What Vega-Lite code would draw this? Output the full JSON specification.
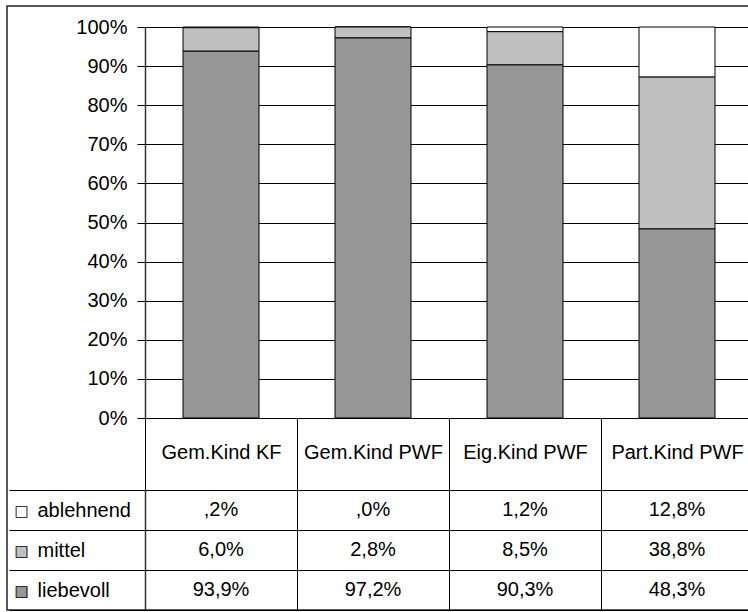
{
  "$schema": "https://vega.github.io/schema/vega-lite/v6.json",
  "autosize": {"type": "none"},
  "padding": {"left": 7, "top": 6, "right": -12, "bottom": 2},
  "width": 753,
  "height": 604,
  "background": "white",
  "config": {
    "font": "Liberation Sans",
    "view": {"stroke": "#222222", "strokeWidth": 1.5},
    "axis": {"labelFont": "Liberation Sans", "labelColor": "black", "title": null}
  },
  "data": {
    "values": [
      {"cat": "Gem.Kind KF", "series": "ablehnend", "value": 0.2, "label": ",2%"},
      {"cat": "Gem.Kind KF", "series": "mittel", "value": 6.0, "label": "6,0%"},
      {"cat": "Gem.Kind KF", "series": "liebevoll", "value": 93.9, "label": "93,9%"},
      {"cat": "Gem.Kind PWF", "series": "ablehnend", "value": 0.0, "label": ",0%"},
      {"cat": "Gem.Kind PWF", "series": "mittel", "value": 2.8, "label": "2,8%"},
      {"cat": "Gem.Kind PWF", "series": "liebevoll", "value": 97.2, "label": "97,2%"},
      {"cat": "Eig.Kind PWF", "series": "ablehnend", "value": 1.2, "label": "1,2%"},
      {"cat": "Eig.Kind PWF", "series": "mittel", "value": 8.5, "label": "8,5%"},
      {"cat": "Eig.Kind PWF", "series": "liebevoll", "value": 90.3, "label": "90,3%"},
      {"cat": "Part.Kind PWF", "series": "ablehnend", "value": 12.8, "label": "12,8%"},
      {"cat": "Part.Kind PWF", "series": "mittel", "value": 38.8, "label": "38,8%"},
      {"cat": "Part.Kind PWF", "series": "liebevoll", "value": 48.3, "label": "48,3%"}
    ]
  },
  "transform": [
    {"calculate": "indexof(['liebevoll','mittel','ablehnend'], datum.series)", "as": "ord"}
  ],
  "resolve": {"scale": {"y": "independent"}, "axis": {"y": "independent"}},
  "layer": [
    {
      "mark": {"type": "bar", "stroke": "black", "strokeWidth": 1, "width": {"band": 0.5}},
      "encoding": {
        "x": {
          "field": "cat", "type": "nominal", "sort": null,
          "scale": {"domain": ["Gem.Kind KF", "Gem.Kind PWF", "Eig.Kind PWF", "Part.Kind PWF"], "range": [138, 746], "paddingInner": 0, "paddingOuter": 0},
          "axis": {"orient": "bottom", "offset": -192, "tickBand": "extent", "tickSize": 192, "tickColor": "black", "tickWidth": 1, "domainColor": "black", "domainWidth": 1, "labelFontSize": 20, "labelPadding": -158, "labelBaseline": "middle", "labelAngle": 0, "labelFlush": false, "labelOverlap": false, "grid": false, "title": null}
        },
        "y": {
          "field": "value", "type": "quantitative", "stack": "normalize",
          "scale": {"domain": [0, 1], "range": [412, 21], "nice": false, "zero": false},
          "axis": {"orient": "left", "offset": -138, "values": [0, 0.1, 0.2, 0.3, 0.4, 0.5, 0.6, 0.7, 0.8, 0.9, 1], "format": ".0%", "grid": true, "gridColor": "black", "gridWidth": 1, "gridOpacity": 1, "tickColor": "black", "tickSize": 8, "domainColor": "#333333", "domainWidth": 1.5, "labelFontSize": 20, "labelPadding": 10, "labelFlush": false, "labelOverlap": false, "title": null}
        },
        "color": {
          "field": "series", "type": "nominal",
          "scale": {"domain": ["ablehnend", "mittel", "liebevoll"], "range": ["#ffffff", "#c0c0c0", "#969696"]},
          "legend": null
        },
        "order": {"field": "ord", "type": "quantitative"}
      }
    },
    {
      "mark": {"type": "text", "fontSize": 20, "font": "Liberation Sans", "color": "black", "align": "center", "baseline": "middle"},
      "encoding": {
        "x": {
          "field": "cat", "type": "nominal", "sort": null,
          "axis": {"orient": "bottom", "offset": -192, "tickBand": "extent", "tickSize": 192, "tickColor": "black", "tickWidth": 1, "domainColor": "black", "domainWidth": 1, "labelFontSize": 20, "labelPadding": -158, "labelBaseline": "middle", "labelAngle": 0, "labelFlush": false, "labelOverlap": false, "grid": false, "title": null}
        },
        "y": {
          "field": "series", "type": "nominal",
          "scale": {"domain": ["ablehnend", "mittel", "liebevoll"], "range": [484, 604], "paddingInner": 0, "paddingOuter": 0},
          "axis": {"orient": "left", "offset": -138, "tickBand": "extent", "tickSize": 136, "tickColor": "black", "tickWidth": 1, "grid": true, "gridColor": "black", "gridWidth": 1, "gridOpacity": 1, "domainColor": "#333333", "domainWidth": 1.5, "labelAlign": "left", "labelBaseline": "middle", "labelPadding": -28, "labelFontSize": 20, "labelFlush": false, "labelOverlap": false, "title": null}
        },
        "text": {"field": "label", "type": "nominal"}
      }
    },
    {
      "mark": {"type": "text", "opacity": 0},
      "encoding": {
        "y": {
          "field": "series", "type": "nominal",
          "scale": {"domain": ["ablehnend", "mittel", "liebevoll"], "range": [484, 604], "paddingInner": 0, "paddingOuter": 0},
          "axis": {"orient": "left", "offset": -138, "ticks": true, "tickSize": 0, "tickOpacity": 0, "domain": false, "grid": false, "labelExpr": "datum.value == 'ablehnend' ? '' : '■'", "labelFont": "DejaVu Sans", "labelFontSize": 15, "labelAlign": "left", "labelBaseline": "middle", "labelPadding": 131, "labelColor": {"condition": {"test": "datum.value == 'mittel'", "value": "#c0c0c0"}, "value": "#969696"}, "labelFlush": false, "labelOverlap": false, "title": null, "zindex": 1}
        },
        "text": {"field": "label", "type": "nominal"}
      }
    },
    {
      "mark": {"type": "text", "opacity": 0},
      "encoding": {
        "y": {
          "field": "series", "type": "nominal",
          "scale": {"domain": ["ablehnend", "mittel", "liebevoll"], "range": [484, 604], "paddingInner": 0, "paddingOuter": 0},
          "axis": {"orient": "left", "offset": -138, "ticks": true, "tickSize": 0, "tickOpacity": 0, "domain": false, "grid": false, "labelExpr": "'□'", "labelFont": "DejaVu Sans", "labelFontSize": 15, "labelAlign": "left", "labelBaseline": "middle", "labelPadding": 131, "labelColor": "black", "labelFlush": false, "labelOverlap": false, "title": null, "zindex": 2}
        },
        "text": {"field": "label", "type": "nominal"}
      }
    }
  ]
}
